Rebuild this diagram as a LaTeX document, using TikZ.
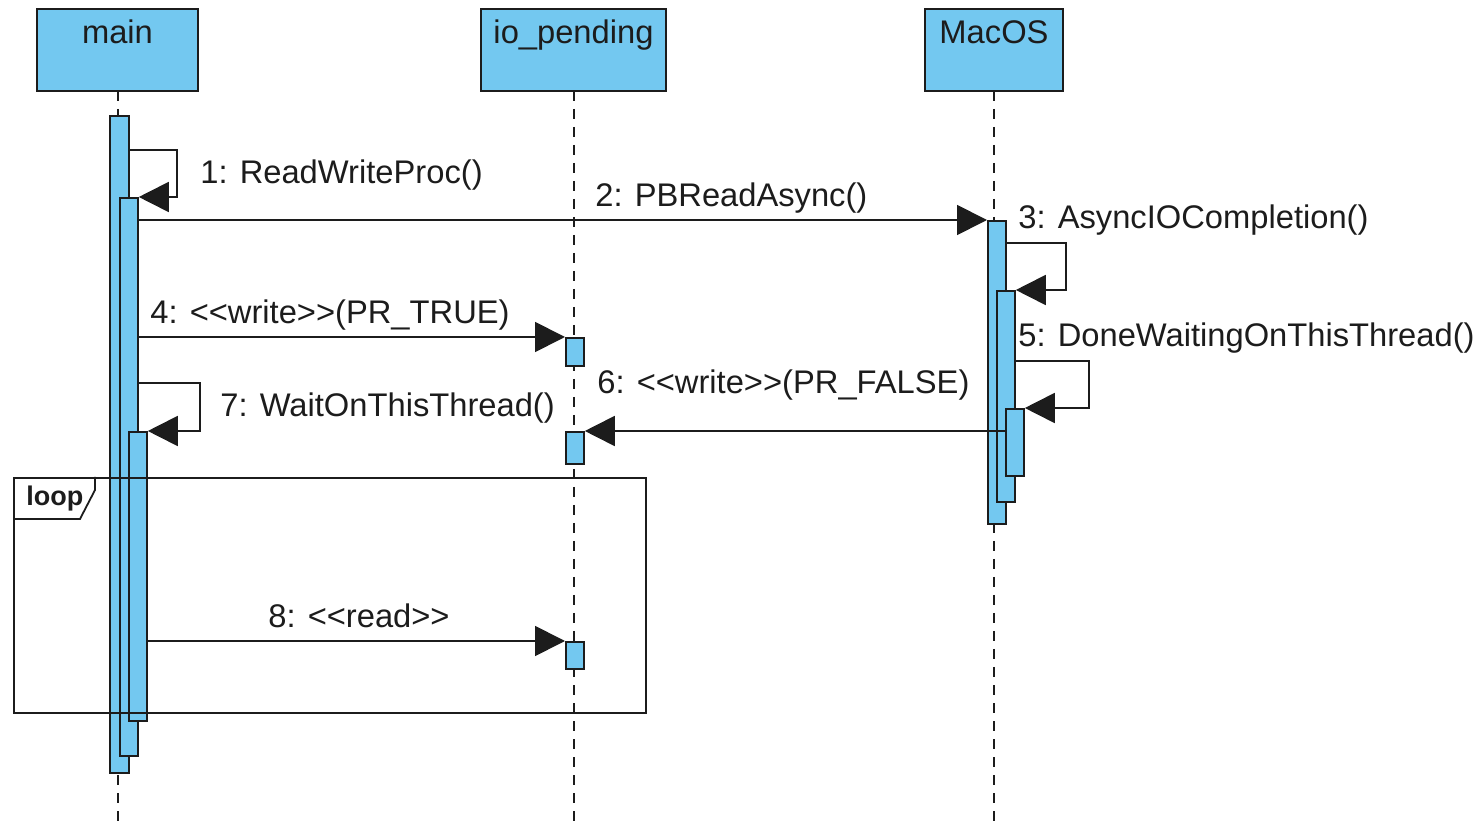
\documentclass[tikz,border=0pt]{standalone}
\usepackage{fontspec}
\setmainfont{Liberation Sans}
\usetikzlibrary{arrows.meta}
\definecolor{barblue}{RGB}{115,200,240}
\definecolor{ink}{RGB}{28,28,28}
\begin{document}
\begin{tikzpicture}[x=0.5pt,y=-0.5pt,
  lbl/.style={font=\fontsize{16.35}{19}\selectfont, text=ink, inner sep=0pt, anchor=base west},
  hlbl/.style={font=\fontsize{16.35}{19}\selectfont, text=ink, inner sep=0pt, anchor=base},
  head/.style={draw=ink, line width=1pt, fill=barblue, inner sep=0pt, minimum height=41pt},
  bar/.style={draw=ink, line width=0.9pt, fill=barblue, inner sep=0pt, anchor=north west, minimum width=9pt},
  life/.style={draw=ink, line width=0.9pt, dash pattern=on 5pt off 4pt},
  msg/.style={draw=ink, line width=0.9pt, -{Triangle[length=15pt,width=15pt]}},
  framebox/.style={draw=ink, line width=0.9pt, inner sep=0pt, anchor=north west}]
\useasboundingbox (0,0) rectangle (1484,828);

% headers
\node[head, minimum width=80.5pt] (hmain) at (117.5,50) {};
\node[head, minimum width=92.5pt] (hio) at (573.5,50) {};
\node[head, minimum width=69pt] (hmac) at (994,50) {};
\node[hlbl] (tmain) at ([yshift=-18pt]hmain.north) {main};
\node[hlbl] (tio) at ([yshift=-18pt]hio.north) {io\_pending};
\node[hlbl] (tmac) at ([yshift=-18pt]hmac.north) {MacOS};

% lifelines
\coordinate (smain) at (118,91);
\coordinate (sio) at (574,91);
\coordinate (smac) at (994,91);
\coordinate (emain) at (118,828);
\coordinate (eio) at (574,828);
\coordinate (emac) at (994,828);
\draw[life] (smain) -- (emain);
\draw[life] (sio) -- (eio);
\draw[life] (smac) -- (emac);

% activation bars: main
\node[bar, minimum width=9.5pt, minimum height=328.5pt] (mA) at (109,115) {};
\node[bar, minimum height=279pt] (mB) at (119,197) {};
\node[bar, minimum height=144.5pt] (mC) at (128,431) {};
% io_pending
\node[bar, minimum height=14pt] (i1) at (565,337) {};
\node[bar, minimum height=16pt] (i2) at (565,431) {};
\node[bar, minimum height=13.5pt] (i3) at (565,641) {};
% MacOS
\node[bar, minimum height=151.5pt] (oA) at (987,220) {};
\node[bar, minimum height=105.5pt] (oB) at (996,290) {};
\node[bar, minimum height=33.5pt] (oC) at (1005,408) {};

% loop frame
\node[framebox, minimum width=316pt, minimum height=117.5pt] (loopf) at (13,477) {};
\coordinate (tabA) at (13,519);
\coordinate (tabB) at (80,519);
\coordinate (tabC) at (95,490);
\coordinate (tabD) at (95,477);
\draw[draw=ink, line width=0.9pt] (tabA) -- (tabB) -- (tabC) -- (tabD);
\node[font=\fontsize{13.5}{16}\selectfont\bfseries, text=ink, inner sep=0pt, anchor=base west] (tloop) at (26,506) {loop};

% messages
\coordinate (s1) at (128,150);
\draw[msg] (s1) -- (177,150) |- (mB.north east);
\draw[msg] (mB.east |- oA.north west) -- (oA.north west);
\coordinate (s3) at (1005,243);
\draw[msg] (s3) -- (1066,243) |- (oB.north east);
\draw[msg] (mB.east |- i1.north west) -- (i1.north west);
\coordinate (s5) at (1014,361);
\draw[msg] (s5) -- (1089,361) |- (oC.north east);
\draw[msg] (oC.west |- i2.north east) -- (i2.north east);
\coordinate (s7) at (137,383);
\draw[msg] (s7) -- (200,383) |- (mC.north east);
\draw[msg] (mC.east |- i3.north west) -- (i3.north west);

% labels
\node[lbl] (l1) at (200,184) {1: ReadWriteProc()};
\node[lbl] (l2) at (595,207) {2: PBReadAsync()};
\node[lbl] (l3) at (1018,229) {3: AsyncIOCompletion()};
\node[lbl] (l4) at (150,324) {4: <{}<write>{}>(PR\_TRUE)};
\node[lbl] (l5) at (1018,347) {5: DoneWaitingOnThisThread()};
\node[lbl] (l6) at (597,394) {6: <{}<write>{}>(PR\_FALSE)};
\node[lbl] (l7) at (220,417) {7: WaitOnThisThread()};
\node[lbl] (l8) at (268,627) {8: <{}<read>{}>};
\end{tikzpicture}
\end{document}
